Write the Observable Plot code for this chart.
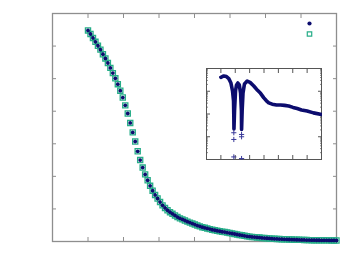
<!DOCTYPE html>
<html><head><meta charset="utf-8">
<script src="https://cdn.jsdelivr.net/npm/d3@7"></script>
<script src="https://cdn.jsdelivr.net/npm/@observablehq/plot@0.6"></script>
<style>
html,body{margin:0;padding:0;background:#fff;}
#wrap{position:relative;width:354px;height:275px;}
#inset{position:absolute;left:205px;top:67px;}
</style></head><body><div id="wrap"><div id="main"></div><div id="inset"></div></div>
<script>
// ---- main chart data ----
const xValues = [1.00,1.07,1.14,1.21,1.28,1.35,1.42,1.49,1.56,1.63,1.70,1.77,1.84,1.91,1.98,2.05,2.12,2.19,2.26,2.33,2.40,2.47,2.54,2.61,2.68,2.75,2.82,2.89,2.96,3.03,3.10,3.17,3.24,3.31,3.38,3.45,3.52,3.59,3.66,3.73,3.80,3.87,3.94,4.01,4.08,4.15,4.22,4.29,4.36,4.43,4.50,4.57,4.64,4.71,4.78,4.85,4.92,4.99,5.06,5.13,5.20,5.27,5.34,5.41,5.48,5.55,5.62,5.69,5.76,5.83,5.90,5.97,6.04,6.11,6.18,6.25,6.32,6.39,6.46,6.53,6.60,6.67,6.74,6.81,6.88,6.95,7.02,7.09,7.16,7.23,7.30,7.37,7.44,7.51,7.58,7.65,7.72,7.79,7.86,7.93,8.00];
const seriesDots = [6.48,6.37,6.25,6.13,6.01,5.89,5.75,5.62,5.48,5.33,5.17,5.01,4.83,4.63,4.42,4.18,3.93,3.64,3.35,3.07,2.77,2.50,2.27,2.06,1.88,1.71,1.56,1.43,1.32,1.21,1.11,1.03,0.96,0.90,0.85,0.80,0.75,0.71,0.68,0.645,0.61,0.58,0.55,0.52,0.49,0.465,0.44,0.42,0.40,0.38,0.36,0.345,0.33,0.315,0.30,0.29,0.275,0.26,0.245,0.23,0.215,0.20,0.19,0.175,0.16,0.15,0.14,0.135,0.125,0.12,0.11,0.105,0.10,0.094,0.088,0.083,0.079,0.075,0.071,0.068,0.065,0.062,0.059,0.056,0.053,0.051,0.049,0.047,0.045,0.043,0.041,0.040,0.039,0.038,0.037,0.036,0.035,0.034,0.033,0.032,0.031];
const seriesSquares = [6.48,6.37,6.25,6.13,6.01,5.89,5.75,5.62,5.48,5.33,5.17,5.01,4.83,4.63,4.42,4.18,3.93,3.64,3.35,3.07,2.77,2.50,2.27,2.06,1.88,1.71,1.56,1.43,1.32,1.21,1.11,1.03,0.96,0.90,0.85,0.80,0.75,0.71,0.68,0.645,0.61,0.58,0.55,0.52,0.49,0.465,0.44,0.42,0.40,0.38,0.36,0.345,0.33,0.315,0.30,0.29,0.275,0.26,0.245,0.23,0.215,0.20,0.19,0.175,0.16,0.15,0.14,0.135,0.125,0.12,0.11,0.105,0.10,0.094,0.088,0.083,0.079,0.075,0.071,0.068,0.065,0.062,0.059,0.056,0.053,0.051,0.049,0.047,0.045,0.043,0.041,0.040,0.039,0.038,0.037,0.036,0.035,0.034,0.033,0.032,0.031];
const xTicks = [0,1,2,3,4,5,6,7,8];
const yTicks = [0,1,2,3,4,5,6,7];

// ---- inset data ----
const insetX = [1.00,1.20,1.39,1.55,1.70,1.81,1.88,1.90,1.91,1.95,2.02,2.09,2.18,2.28,2.37,2.43,2.44,2.48,2.54,2.64,2.83,3.03,3.29,3.55,3.76,3.99,4.17,4.33,4.57,4.87,5.15,5.43,5.72,6.02,6.31,6.61,7.00,7.44,8.00];
const insetY = [0.41,0.47,0.44,0.36,0.23,0.105,0.038,0.0083,0.0022,0.0138,0.105,0.19,0.23,0.19,0.085,0.0138,0.0021,0.0138,0.085,0.21,0.28,0.245,0.17,0.11,0.081,0.051,0.038,0.031,0.027,0.025,0.025,0.024,0.0224,0.0195,0.0174,0.0151,0.0135,0.0112,0.0095];
const strayX = [1.90,1.90,1.90,2.44,2.44,2.44];
const strayY = [0.0015,0.00076,0.00013,0.00126,0.0010,0.00011];
const insetXTicks = [0,1,2,3,4,5,6,7,8];
const insetMajor = [1e-4,1e-3,1e-2,1e-1,1];
const insetMinor = [1e-4,1e-3,1e-2,1e-1].flatMap(d => [2,3,4,5,6,7,8,9].map(k => k*d));

const navy = "#0c0c6e";
const teal = "#26ad88";
const frameGrey = "#8e8e8e";

const mainData = xValues.map((x,i) => ({x, a: seriesDots[i], b: seriesSquares[i]}));
const noLabel = () => "";

const main = Plot.plot({
  width: 354, height: 275,
  marginLeft: 52, marginRight: 18, marginTop: 13, marginBottom: 34,
  x: {domain: [0,8]}, y: {domain: [0,7]},
  style: {background: "transparent", fontFamily: "DejaVu Sans"},
  marks: [
    Plot.axisX({ticks: xTicks, anchor: "bottom", tickSize: -4, tickFormat: noLabel, stroke: frameGrey, label: null}),
    Plot.axisX({ticks: xTicks, anchor: "top", tickSize: -4, tickFormat: noLabel, stroke: frameGrey, label: null}),
    Plot.axisY({ticks: yTicks, anchor: "left", tickSize: -4, tickFormat: noLabel, stroke: frameGrey, label: null}),
    Plot.axisY({ticks: yTicks, anchor: "right", tickSize: -4, tickFormat: noLabel, stroke: frameGrey, label: null}),
    Plot.frame({stroke: frameGrey, strokeWidth: 1.3}),
    Plot.dot(mainData, {x: "x", y: "b", symbol: "square", r: 2.9, stroke: teal, strokeWidth: 1.3, fill: "none"}),
    Plot.dot(mainData, {x: "x", y: "a", r: 1.9, fill: navy, stroke: "none"}),
    // legend symbols
    Plot.dot([0], {frameAnchor: "top-right", dx: -27, dy: 10, r: 2.1, fill: navy, stroke: "none"}),
    Plot.dot([0], {frameAnchor: "top-right", dx: -27, dy: 20.5, symbol: "square", r: 2.5, stroke: teal, strokeWidth: 1.2, fill: "none"})
  ]
});
document.getElementById("main").append(main);

const insetData = insetX.map((x,i) => ({x, y: insetY[i]}));
const strayData = strayX.map((x,i) => ({x, y: strayY[i]}));
const insetGrey = "#555";
const inset = Plot.plot({
  width: 117, height: 93,
  marginLeft: 1, marginRight: 1, marginTop: 1, marginBottom: 1,
  x: {domain: [0,8]},
  y: {type: "log", domain: [1e-4, 1]},
  style: {background: "transparent"},
  marks: [
    Plot.axisX({ticks: insetXTicks, anchor: "bottom", tickSize: -4, tickFormat: noLabel, stroke: insetGrey, label: null}),
    Plot.axisX({ticks: insetXTicks, anchor: "top", tickSize: -4, tickFormat: noLabel, stroke: insetGrey, label: null}),
    Plot.axisY({ticks: insetMajor, anchor: "left", tickSize: -4, tickFormat: noLabel, stroke: insetGrey, label: null}),
    Plot.axisY({ticks: insetMajor, anchor: "right", tickSize: -4, tickFormat: noLabel, stroke: insetGrey, label: null}),
    Plot.axisY({ticks: insetMinor, anchor: "left", tickSize: -2, tickFormat: noLabel, stroke: "#888", label: null}),
    Plot.axisY({ticks: insetMinor, anchor: "right", tickSize: -2, tickFormat: noLabel, stroke: "#888", label: null}),
    Plot.frame({stroke: insetGrey, strokeWidth: 1}),
    Plot.line(insetData, {x: "x", y: "y", stroke: navy, strokeWidth: 3.6, strokeLinejoin: "round"}),
    Plot.dot(strayData, {x: "x", y: "y", symbol: "plus", r: 1.8, stroke: "#3a3a9a", strokeWidth: 1})
  ]
});
document.getElementById("inset").append(inset);
</script></body></html>
